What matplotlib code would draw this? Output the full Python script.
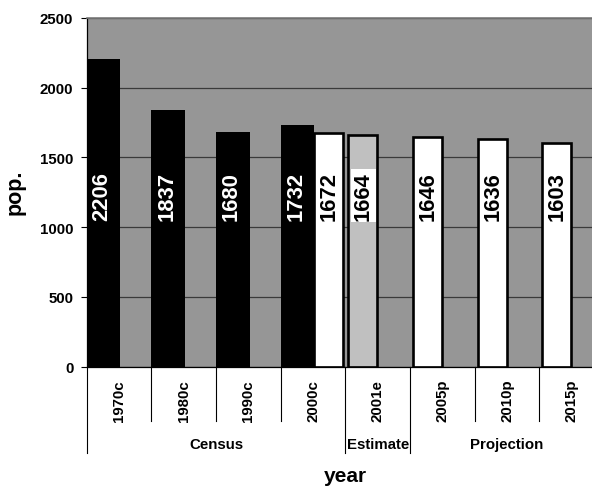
import matplotlib
matplotlib.use("Agg")
import matplotlib.pyplot as plt

plt.rcParams['font.family'] = ['Liberation Sans', 'DejaVu Sans']
plt.rcParams['font.weight'] = 'bold'

# Population by year: census counts, one estimate, and projections
categories = ['1970c', '1980c', '1990c', '2000c', '2001e', '2005p', '2010p', '2015p']
census_idx = [0, 1, 2, 3]
census_pop = [2206, 1837, 1680, 1732]
estimate_idx = [4]
estimate_pop = [1664]
projection_idx = [3, 5, 6, 7]
projection_pop = [1672, 1646, 1636, 1603]
groups = ['Census', 'Estimate', 'Projection']
group_spans = [(0, 4), (4, 5), (5, 8)]
yticks = [0, 500, 1000, 1500, 2000, 2500]

W, H = 592, 489
fig = plt.figure(figsize=(W / 100, H / 100), dpi=100)
x0, x1, ytop, ybot = 86.7, 604.0, 19.0, 367.7
ax = fig.add_axes([x0 / W, (H - ybot) / H, (x1 - x0) / W, (ybot - ytop) / H])
ax_h = ybot - ytop

ax.set_facecolor('#969696')
ax.set_xlim(0, len(categories))
ax.set_ylim(0, 2500)
ax.set_yticks(yticks)
ax.set_yticklabels([str(v) for v in yticks], fontsize=10.8, fontweight='bold')
ax.tick_params(axis='y', length=4.1, width=0.8, pad=5.5, color='black')
ax.set_xticks([])
ax.yaxis.grid(True, color='#3a3a3a', linewidth=0.9)
ax.set_axisbelow(True)
for s in ['right']:
    ax.spines[s].set_visible(False)
ax.spines['top'].set_color('#7a7a7a')
ax.spines['top'].set_linewidth(1.2)
ax.spines['left'].set_linewidth(0.9)
ax.spines['bottom'].set_linewidth(0.9)

LABEL_Y = 1230
VAL_FS = 15.8

# Census bars: solid black, white value labels
census_w = 0.52
for i, v in zip(census_idx, census_pop):
    ax.bar(i, v, width=census_w, align='edge', color='black', edgecolor='none', zorder=2)
    ax.text(i + census_w / 2 - 0.02, LABEL_Y, str(v), rotation=90, ha='center', va='center',
            color='white', fontsize=VAL_FS, fontweight='bold', zorder=4)

# Outlined bars for estimate and projections, labels on white boxes
outline_w = 0.445
def outlined(i, v, color):
    off = census_w if i in census_idx else 0.048
    ax.bar(i + off, v, width=outline_w, align='edge', color=color, edgecolor='black',
           linewidth=1.9, zorder=2)
    ax.text(i + off + outline_w / 2 + 0.01, LABEL_Y, str(v), rotation=90, ha='center', va='center',
            color='black', fontsize=VAL_FS, fontweight='bold', zorder=4,
            bbox=dict(boxstyle='square,pad=0.1', facecolor='white', edgecolor='none'))

for i, v in zip(estimate_idx, estimate_pop):
    outlined(i, v, '#c0c0c0')
for i, v in zip(projection_idx, projection_pop):
    outlined(i, v, 'white')

# Category axis with two label levels
tr = ax.get_xaxis_transform()
short = -(421.7 - ybot) / ax_h
long_ = -(454.3 - ybot) / ax_h
group_edges = set()
for a, b in group_spans:
    group_edges.add(a)
    group_edges.add(b)
for k in range(len(categories) + 1):
    y_end = long_ if k in group_edges else short
    ax.plot([k, k], [0, y_end], color='black', linewidth=0.8, transform=tr, clip_on=False)
for k, c in enumerate(categories):
    ax.text(k + 0.5, short, c, rotation=90, ha='center', va='bottom', transform=tr,
            fontsize=10.8, fontweight='bold')
for g, (a, b) in zip(groups, group_spans):
    ax.text((a + b) / 2, -(449.3 - ybot) / ax_h, g, ha='center', va='baseline', transform=tr,
            fontsize=10.8, fontweight='bold')

fig.text(345 / W, 1 - 482 / H, 'year', ha='center', va='baseline', fontsize=15, fontweight='bold')
fig.text(15.5 / W, 1 - 192 / H, 'pop.', rotation=90, ha='center', va='center',
         fontsize=15.5, fontweight='bold')

fig.savefig('out.png', dpi=100, facecolor='white')
